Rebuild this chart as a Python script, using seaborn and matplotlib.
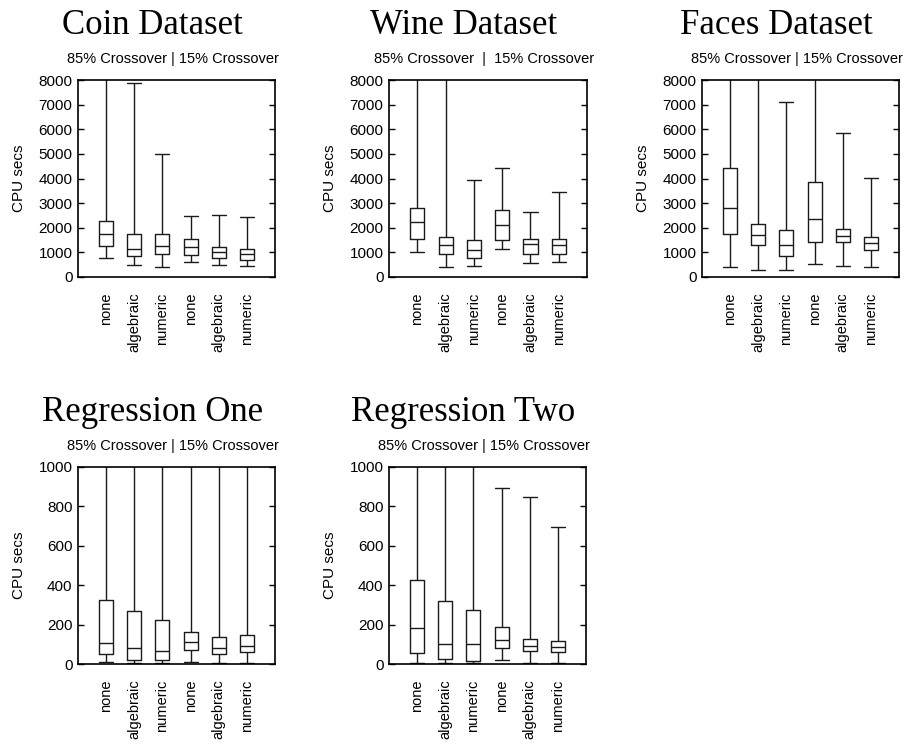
import matplotlib
matplotlib.use("Agg")
import matplotlib.pyplot as plt
import pandas as pd
import seaborn as sns

# Method labels along each x axis: first three runs at 85% crossover, last three at 15%
methods = ["none", "algebraic", "numeric", "none", "algebraic", "numeric"]
subtitle = "85% Crossover | 15% Crossover"
subtitle_wide = "85% Crossover  |  15% Crossover"

# Five-number summaries (whisker low, Q1, median, Q3, whisker high), CPU seconds
coin_lo = [781, 479, 425, 589, 493, 452]
coin_q1 = [1274, 849, 918, 890, 753, 671]
coin_med = [1740, 1123, 1274, 1233, 1000, 945]
coin_q3 = [2274, 1726, 1753, 1562, 1233, 1151]
coin_hi = [9500, 7865, 4980, 2493, 2507, 2438]

wine_lo = [1027, 392, 459, 1122, 554, 595]
wine_q1 = [1527, 932, 757, 1500, 919, 919]
wine_med = [2230, 1284, 1095, 2108, 1324, 1297]
wine_q3 = [2811, 1608, 1500, 2730, 1527, 1527]
wine_hi = [9500, 9500, 3959, 4446, 2622, 3459]

faces_lo = [392, 297, 284, 514, 459, 419]
faces_q1 = [1730, 1297, 851, 1405, 1432, 1081]
faces_med = [2797, 1703, 1297, 2365, 1676, 1365]
faces_q3 = [4432, 2135, 1892, 3838, 1946, 1635]
faces_hi = [9500, 9500, 7100, 9500, 5851, 4027]

reg1_lo = [8, 3, 3, 12, 3, 3]
reg1_q1 = [53, 22, 22, 72, 50, 60]
reg1_med = [109, 80, 67, 113, 82, 89]
reg1_q3 = [325, 268, 222, 161, 135, 147]
reg1_hi = [1200, 1200, 1200, 1200, 1200, 1200]

reg2_lo = [5, 5, 5, 22, 5, 5]
reg2_q1 = [54, 25, 17, 81, 64, 61]
reg2_med = [181, 100, 101, 122, 93, 84]
reg2_q3 = [427, 322, 273, 187, 128, 118]
reg2_hi = [1200, 1200, 1200, 893, 847, 693]

W, H = 913, 744
sns.set_style("white")
plt.rcParams["font.family"] = ["Liberation Sans", "DejaVu Sans"]
plt.rcParams["text.color"] = "black"
plt.rcParams["xtick.color"] = "black"
plt.rcParams["ytick.color"] = "black"
plt.rcParams["xtick.labelcolor"] = "black"
plt.rcParams["ytick.labelcolor"] = "black"
fig = plt.figure(figsize=(W / 100, H / 100), dpi=100)
fig.patch.set_facecolor("white")

LINE = "#1a1a1a"


def panel(left, top, width, height, title, sub, lo, q1, med, q3, hi, ymax, ystep):
    ax = fig.add_axes([left / W, 1 - (top + height) / H, width / W, height / H])
    rows = []
    for i, stats in enumerate(zip(lo, q1, med, q3, hi)):
        for v in stats:
            rows.append({"slot": i, "secs": v})
    df = pd.DataFrame(rows)
    sns.boxplot(data=df, x="slot", y="secs", order=list(range(6)),
                whis=(0, 100), width=0.5, fill=False, color=LINE,
                linecolor=LINE, linewidth=1.0, capwidths=0.5, ax=ax)
    ax.set_xlim(-1, 6)
    ax.set_ylim(0, ymax)
    ax.set_yticks(range(0, ymax + 1, ystep))
    ax.set_xticks(range(6))
    ax.set_xticklabels(methods, rotation=90, fontsize=10.5)
    ax.tick_params(axis="y", direction="in", length=4, width=1, labelsize=11,
                   pad=4, right=True, left=True)
    ax.tick_params(axis="x", direction="in", length=4, width=1, pad=11)
    ax.set_xlabel("")
    ax.set_ylabel("")
    for s in ax.spines.values():
        s.set_visible(True)
        s.set_color("black")
        s.set_linewidth(1.2)
    cx = left + width / 2 - 24
    fig.text(cx / W, 1 - (top - 46) / H, title, family="Liberation Serif",
             fontsize=25, ha="center", va="baseline", color="black")
    fig.text((left + width / 2 - 4) / W, 1 - (top - 17) / H, sub,
             fontsize=10.5, ha="center", va="baseline", color="black")
    fig.text((left - 59) / W, 1 - (top + height / 2) / H, "CPU secs",
             fontsize=11, rotation=90, ha="center", va="center", color="black")
    return ax


panel(78, 80, 197, 197, "Coin Dataset", subtitle,
      coin_lo, coin_q1, coin_med, coin_q3, coin_hi, 8000, 1000)
panel(389, 80, 198, 197, "Wine Dataset", subtitle_wide,
      wine_lo, wine_q1, wine_med, wine_q3, wine_hi, 8000, 1000)
panel(702, 80, 197, 197, "Faces Dataset", subtitle,
      faces_lo, faces_q1, faces_med, faces_q3, faces_hi, 8000, 1000)
panel(78, 467, 197, 197, "Regression One", subtitle,
      reg1_lo, reg1_q1, reg1_med, reg1_q3, reg1_hi, 1000, 200)
panel(389, 467, 197, 197, "Regression Two", subtitle,
      reg2_lo, reg2_q1, reg2_med, reg2_q3, reg2_hi, 1000, 200)

fig.savefig("out.png", dpi=100, facecolor="white")
